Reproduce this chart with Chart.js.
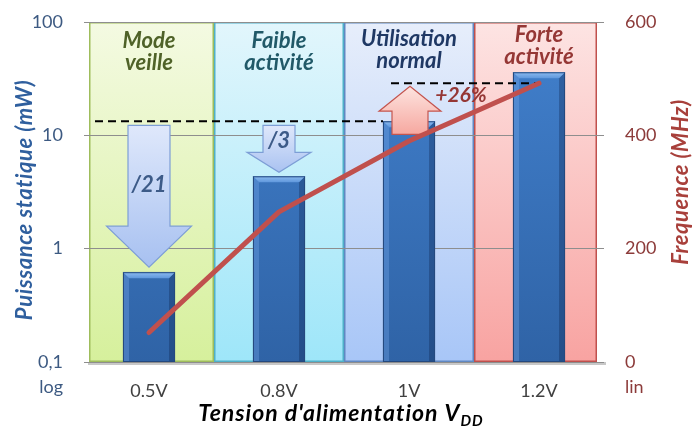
<!DOCTYPE html>
<html lang="fr">
<head>
<meta charset="utf-8">
<title>Puissance statique et fréquence selon la tension d'alimentation</title>
<script src="https://cdn.jsdelivr.net/npm/chart.js@4.4.1/dist/chart.umd.min.js"></script>
<style>
    html, body { margin: 0; padding: 0; background: #ffffff; }
    canvas { display: block; }
</style>
</head>
<body>
<canvas id="chart" width="693" height="427"></canvas>
<script>
//------
//Donnees
//------

//Tension d'alimentation (categories)
const TENSIONS = ["0.5V", "0.8V", "1V", "1.2V"];
//Puissance statique, mW (axe log)
const PUISSANCE = [0.62, 4.35, 13.3, 36];
//Frequence, MHz (axe lin)
const FREQUENCE = [52, 265, 390, 492];
//Zones de fonctionnement
const ZONES = [["Mode", "veille"], ["Faible", "activité"], ["Utilisation", "normal"], ["Forte", "activité"]];
//Graduations
const TICKS_PUISSANCE = [0.1, 1, 10, 100];
const TICKS_FREQUENCE = [0, 200, 400, 600];
//Rapports de puissance et gain de frequence
const RAPPORTS = ["/21", "/3"];
const GAIN_FREQUENCE = "+26%";

//------
//Styles
//------

const FONT = "Lato, 'Open Sans', 'DejaVu Sans', sans-serif";
const ZONE_STYLES = [
    { top: "#f4fae2", bottom: "#d6f09c", border: "#9fbd5c", text: "#4f6228", y: 41 },
    { top: "#e2f6fc", bottom: "#9ee6f9", border: "#4fb0c9", text: "#215968", y: 41 },
    { top: "#e7eefb", bottom: "#a8c6f7", border: "#6088c2", text: "#1f3864", y: 39 },
    { top: "#fde4e3", bottom: "#f8a3a1", border: "#c0504d", text: "#953735", y: 35 }
];
const COLOR_LEFT = "#3d5a82";
const COLOR_RIGHT = "#8c3b3a";

//----------------
//Dessin du decor
//----------------

//Fleche pleine verticale de yStart vers yEnd
const blockArrow = (ctx, cx, yStart, yEnd, shaftW, headW, headLen, fill, stroke) => {
    const dir = Math.sign(yEnd - yStart);
    const hb = yEnd - dir * headLen;
    ctx.beginPath();
    ctx.moveTo(cx - shaftW / 2, yStart);
    ctx.lineTo(cx - shaftW / 2, hb);
    ctx.lineTo(cx - headW / 2, hb);
    ctx.lineTo(cx, yEnd);
    ctx.lineTo(cx + headW / 2, hb);
    ctx.lineTo(cx + shaftW / 2, hb);
    ctx.lineTo(cx + shaftW / 2, yStart);
    ctx.closePath();
    ctx.fillStyle = fill;
    ctx.fill();
    ctx.lineWidth = 1.2;
    ctx.strokeStyle = stroke;
    ctx.stroke();
};

//Fonds des zones et titres des zones
const drawZones = chart => {
    const { ctx, chartArea: ca, scales } = chart;
    const xs = TENSIONS.map((t, i) => scales.x.getPixelForValue(i));
    ctx.save();
    ZONES.forEach((lines, i) => {
        const st = ZONE_STYLES[i];
        const l = i === 0 ? ca.left + 5 : (xs[i - 1] + xs[i]) / 2;
        const r = i === ZONES.length - 1 ? ca.right - 7 : (xs[i] + xs[i + 1]) / 2;
        const g = ctx.createLinearGradient(0, ca.top, 0, ca.bottom);
        g.addColorStop(0, st.top);
        g.addColorStop(1, st.bottom);
        ctx.fillStyle = g;
        ctx.fillRect(l, ca.top, r - l, ca.bottom - ca.top);
        ctx.lineWidth = 1.5;
        ctx.strokeStyle = st.border;
        ctx.strokeRect(l + 0.75, ca.top + 0.75, r - l - 1.5, ca.bottom - ca.top - 1.5);
        ctx.fillStyle = st.text;
        ctx.font = "italic bold 22px " + FONT;
        ctx.textAlign = "center";
        ctx.textBaseline = "middle";
        lines.forEach((s, k) => ctx.fillText(s, xs[i], st.y + k * 22));
    });
    //Ombre de l'axe horizontal
    ctx.fillStyle = "#c8c8c8";
    ctx.fillRect(ca.left + 4, ca.bottom, ca.right - ca.left - 2, 3);
    ctx.restore();
};

//Relief des barres
const drawBevels = (chart, meta) => {
    const { ctx, chartArea: ca } = chart;
    ctx.save();
    meta.data.forEach(bar => {
        const { x, y, base, width } = bar.getProps(["x", "y", "base", "width"], true);
        const l = x - width / 2, r = x + width / 2, b = base, t = y, d = 6;
        const body = ctx.createLinearGradient(0, ca.top, 0, ca.bottom);
        body.addColorStop(0, "#4281ce");
        body.addColorStop(1, "#2f63a6");
        ctx.fillStyle = body;
        ctx.fillRect(l, t, width, b - t);
        ctx.fillStyle = "rgba(120,170,235,0.35)";
        ctx.beginPath();
        ctx.moveTo(l, t); ctx.lineTo(l + d, t + d); ctx.lineTo(l + d, b); ctx.lineTo(l, b); ctx.closePath();
        ctx.fill();
        ctx.fillStyle = "rgba(10,30,70,0.3)";
        ctx.beginPath();
        ctx.moveTo(r, t); ctx.lineTo(r - d, t + d); ctx.lineTo(r - d, b); ctx.lineTo(r, b); ctx.closePath();
        ctx.fill();
        const top = ctx.createLinearGradient(0, t, 0, t + d);
        top.addColorStop(0, "#8dbbf0");
        top.addColorStop(1, "#5f97dc");
        ctx.fillStyle = top;
        ctx.beginPath();
        ctx.moveTo(l, t); ctx.lineTo(r, t); ctx.lineTo(r - d, t + d); ctx.lineTo(l + d, t + d); ctx.closePath();
        ctx.fill();
        ctx.lineWidth = 1;
        ctx.strokeStyle = "#24497f";
        ctx.strokeRect(l + 0.5, t + 0.5, width - 1, b - t - 1);
    });
    ctx.restore();
};

//Lignes de reference, fleches et rapports
const drawAnnotations = (chart, meta) => {
    const { ctx, chartArea: ca, scales } = chart;
    const { x, y1 } = scales;
    const yP = scales.y;
    const bars = meta.data.map(b => b.getProps(["x", "y", "width"], true));
    const yRef = yP.getPixelForValue(PUISSANCE[2]);
    const yFreq = y1.getPixelForValue(FREQUENCE[3]);
    ctx.save();
    //Pointilles
    ctx.setLineDash([8, 5]);
    ctx.lineWidth = 2;
    ctx.strokeStyle = "#000000";
    ctx.beginPath();
    ctx.moveTo(ca.left + 11, yRef);
    ctx.lineTo(bars[2].x - bars[2].width / 2, yRef);
    ctx.moveTo(bars[2].x - 18, yFreq);
    ctx.lineTo(x.getPixelForValue(3), yFreq);
    ctx.stroke();
    ctx.setLineDash([]);
    //Fleches de reduction de puissance
    const blue = (a, b) => {
        const g = ctx.createLinearGradient(0, a, 0, b);
        g.addColorStop(0, "#dfe8fb");
        g.addColorStop(1, "#a5bff0");
        return g;
    };
    const y0 = yRef + 4;
    blockArrow(ctx, bars[0].x, y0, bars[0].y - 5, 42, 85, 41, blue(y0, bars[0].y), "#7d9ed6");
    blockArrow(ctx, bars[1].x, y0, bars[1].y - 4, 32, 64, 20, blue(y0, bars[1].y), "#7d9ed6");
    //Fleche de gain en frequence
    const yb = yRef + 13, yt = yFreq + 3;
    const pink = ctx.createLinearGradient(0, yt, 0, yb);
    pink.addColorStop(0, "#fde4e0");
    pink.addColorStop(1, "#f6a8a0");
    blockArrow(ctx, bars[2].x + 1, yb, yt, 36, 62, 25, pink, "#c4554f");
    //Rapports
    ctx.font = "italic bold 22px " + FONT;
    ctx.textAlign = "center";
    ctx.textBaseline = "middle";
    ctx.fillStyle = "#3d5b88";
    ctx.fillText(RAPPORTS[0], bars[0].x, 185);
    ctx.fillText(RAPPORTS[1], bars[1].x, 141);
    ctx.fillStyle = "#953735";
    ctx.font = "italic bold 21px " + FONT;
    ctx.fillText(GAIN_FREQUENCE, bars[2].x + 52, yFreq + 12);
    ctx.restore();
};

//Titres d'axes et mentions log / lin
const drawAxisTexts = chart => {
    const { ctx, chartArea: ca } = chart;
    ctx.save();
    ctx.textBaseline = "middle";
    ctx.font = "18px " + FONT;
    ctx.fillStyle = COLOR_LEFT;
    ctx.textAlign = "right";
    ctx.fillText("log", ca.left - 21, ca.bottom + 25);
    ctx.fillStyle = COLOR_RIGHT;
    ctx.textAlign = "left";
    ctx.fillText("lin", ca.right + 21, ca.bottom + 25);
    ctx.textAlign = "center";
    ctx.font = "italic bold 22px " + FONT;
    ctx.letterSpacing = "0.6px";
    ctx.fillStyle = "#2f5f9e";
    ctx.save();
    ctx.translate(25, 200);
    ctx.rotate(-Math.PI / 2);
    ctx.fillText("Puissance statique (mW)", 0, 0);
    ctx.restore();
    ctx.fillStyle = "#a8403b";
    ctx.save();
    ctx.translate(681, 182);
    ctx.rotate(-Math.PI / 2);
    ctx.fillText("Frequence (MHz)", 0, 0);
    ctx.restore();
    //Titre horizontal avec indice DD
    const main = "Tension d'alimentation V";
    const sub = "DD";
    ctx.fillStyle = "#000000";
    ctx.textBaseline = "alphabetic";
    ctx.textAlign = "left";
    ctx.letterSpacing = "1px";
    ctx.font = "italic bold 23px " + FONT;
    const wMain = ctx.measureText(main).width;
    ctx.font = "italic bold 15px " + FONT;
    const wSub = ctx.measureText(sub).width;
    const x0 = (ca.left + ca.right) / 2 - 3 - (wMain + wSub) / 2;
    ctx.font = "italic bold 23px " + FONT;
    ctx.fillText(main, x0, 421);
    ctx.font = "italic bold 15px " + FONT;
    ctx.fillText(sub, x0 + wMain, 426);
    ctx.restore();
};

const decorPlugin = {
    id: "decor",
    beforeDraw: chart => drawZones(chart),
    afterDatasetDraw: (chart, args) => {
        if (args.meta.type === "bar") {
            drawBevels(chart, args.meta);
            drawAnnotations(chart, args.meta);
        }
    },
    afterDraw: chart => drawAxisTexts(chart)
};

//Largeur fixe d'un axe vertical, sans marge pour les libelles extremes
const fixWidth = w => s => {
    s.width = w;
    s.paddingTop = 0;
    s.paddingBottom = 0;
};

//---------
//Graphique
//---------

const buildChart = () => {
    new Chart(document.getElementById("chart").getContext("2d"), {
        type: "bar",
        data: {
            labels: TENSIONS,
            datasets: [
                {
                    type: "line",
                    label: "Frequence (MHz)",
                    data: FREQUENCE,
                    yAxisID: "y1",
                    borderColor: "#c0504d",
                    borderWidth: 5,
                    borderCapStyle: "round",
                    borderJoinStyle: "round",
                    pointRadius: 0,
                    tension: 0,
                    order: 0
                },
                {
                    type: "bar",
                    label: "Puissance statique (mW)",
                    data: PUISSANCE,
                    yAxisID: "y",
                    backgroundColor: "#3a70ba",
                    borderColor: "#24497f",
                    borderWidth: 1,
                    barThickness: 52,
                    order: 1
                }
            ]
        },
        options: {
            responsive: false,
            animation: false,
            devicePixelRatio: 1,
            layout: { padding: { top: 22, left: 0, right: 0, bottom: 0 } },
            plugins: { legend: { display: false }, tooltip: { enabled: false } },
            scales: {
                x: {
                    type: "category",
                    offset: true,
                    grid: { display: false, drawTicks: false },
                    border: { display: false },
                    ticks: { color: "#404040", font: { family: FONT, size: 18 }, padding: 18 },
                    afterFit: s => { s.height = 65; }
                },
                y: {
                    type: "logarithmic",
                    position: "left",
                    min: 0.1,
                    max: 100,
                    afterBuildTicks: s => { s.ticks = TICKS_PUISSANCE.map(v => ({ value: v })); },
                    grid: { color: "#8e8e8e", lineWidth: 1, drawTicks: false },
                    border: { display: false },
                    ticks: {
                        color: COLOR_LEFT,
                        font: { family: FONT, size: 18 },
                        padding: 21,
                        callback: v => String(v).replace(".", ",")
                    },
                    afterFit: fixWidth(84)
                },
                y1: {
                    type: "linear",
                    position: "right",
                    min: 0,
                    max: 600,
                    afterBuildTicks: s => { s.ticks = TICKS_FREQUENCE.map(v => ({ value: v })); },
                    grid: { display: false, drawTicks: false },
                    border: { display: false },
                    ticks: { color: COLOR_RIGHT, font: { family: FONT, size: 18 }, padding: 21 },
                    afterFit: fixWidth(89)
                }
            }
        },
        plugins: [decorPlugin]
    });
};

Promise.all([
    document.fonts.load("18px Lato"),
    document.fonts.load("italic bold 22px Lato")
]).then(buildChart, buildChart);
</script>
</body>
</html>
